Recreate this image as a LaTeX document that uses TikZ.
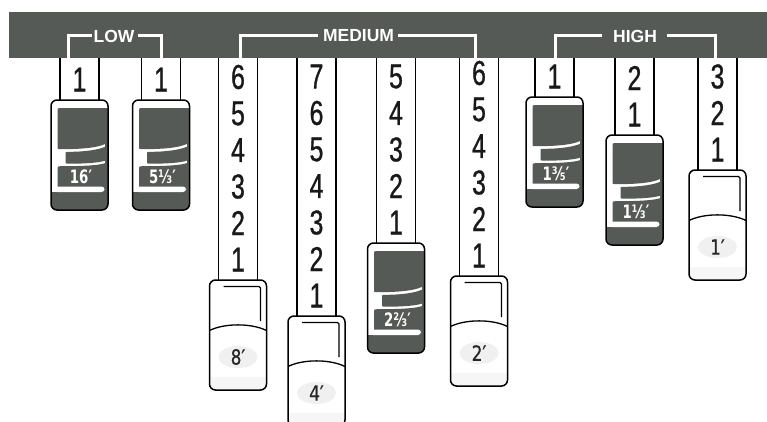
\documentclass[tikz,border=0pt]{standalone}
\usepackage{fontspec}
\setmainfont{Liberation Sans}
\newfontfamily\numfont[FakeStretch=0.72,FakeBold=0.8]{Liberation Sans}
\newfontfamily\labfont[FakeStretch=0.8,FakeBold=0.8]{DejaVu Sans}
\newfontfamily\labboldfont[FakeStretch=0.72]{DejaVu Sans Bold}
\definecolor{panel}{HTML}{565A57}
\tikzset{
  bodyanchor/.style={minimum width=57pt,minimum height=110pt,inner sep=0pt,outer sep=0pt,draw=none},
  digit/.style={font=\numfont\fontsize{34.5}{34.5}\selectfont,inner sep=0pt,text=black!90},
  darklab/.style={font=\labboldfont\fontsize{18.5}{18.5}\selectfont,inner sep=0pt,text=white},
  whitelab/.style={font=\labfont\fontsize{21}{21}\selectfont,inner sep=0pt,text=black!85},
  grouplab/.style={font=\fontsize{17.5}{17.5}\selectfont\bfseries,inner sep=0pt,text=white},
  bracket/.style={draw=white,line width=3pt,line join=miter},
  stripline/.style={draw=black,line width=1.8pt},
  outline/.style={draw=black,line width=1.5pt,rounded corners=6pt},
}
\newcommand\stripfor[1]{%
  \draw[stripline] ([xshift=-19.5pt]#1.north) -- ([xshift=-19.5pt]#1.north |- bar.south);
  \draw[stripline] ([xshift=19.5pt]#1.north) -- ([xshift=19.5pt]#1.north |- bar.south);}
\newcommand\digitsfor[4]{%
  \foreach \k in {1,...,#4}{\node[digit] (#1-d\k) at ({#2},{#3-20.5-(\k-1)*36.5}) {\k};}}
\newcommand\darkbody[4]{%
  \node[bodyanchor] (#1) at ({#2},{#3+55}) {};
  \begin{scope}[shift={(#1.north west)}]
    \fill[white,rounded corners=6pt] (0,0) rectangle (57,110);
    \begin{scope}
      \clip[rounded corners=6pt] (0,0) rectangle (57,110);
      % upper block
      \fill[panel] (6.5,11) .. controls (6.5,8) .. (9.5,8) -- (58,8) -- (58,44)
        -- (54,44) .. controls (48,47) and (35,49.2) .. (10,49.2)
        .. controls (6.5,49.2) .. (6.5,46) -- cycle;
      % right column
      \fill[panel] (54,8) rectangle (58,111);
      % middle tab
      \fill[panel] (58,46.8) -- (54,46.8) .. controls (48,49.6) and (35,51.8) .. (18,51.8)
        .. controls (14.5,51.8) .. (14.5,55) -- (14.5,60.5)
        .. controls (14.5,63.7) .. (18,63.7) .. controls (35,63.7) and (48,62.7) .. (54,60.7)
        -- (58,60.7) -- cycle;
      % lower tab and bottom band
      \fill[panel] (6.5,69.2) .. controls (6.5,66.2) .. (9.5,66.2)
        .. controls (35,66.2) and (48,65.2) .. (54,63.2) -- (58,63.2) -- (58,111)
        -- (-1,111) -- (-1,92) -- (6.5,92) -- cycle;
      \fill[white,rounded corners=3pt] (3,86.5) rectangle (53.5,92);
    \end{scope}
    \node[darklab] (#1-lab) at (30,76.5) {#4};
    \draw[outline] (0,0) rectangle (57,110);
  \end{scope}}
\newcommand\whitebody[4]{%
  \node[bodyanchor] (#1) at ({#2},{#3+55}) {};
  \begin{scope}[shift={(#1.north west)}]
    \fill[white,rounded corners=6pt] (0,0) rectangle (57,110);
    \begin{scope}
      \clip[rounded corners=6pt] (0,0) rectangle (57,110);
      \fill[gray!7] (0,97) rectangle (57,110);
      \draw[line width=1.3pt] (0,50.5) .. controls (15,43) and (42,43) .. (57,50.5);
    \end{scope}
    \draw[line width=1.3pt,rounded corners=1.5pt] (14,6.5) -- (51,6.5) -- (51,41);
    \fill[gray!12] (28.5,77) ellipse [x radius=19.5,y radius=11];
    \node[whitelab] (#1-lab) at (28.5,77) {#4};
    \draw[outline] (0,0) rectangle (57,110);
  \end{scope}}
\begin{document}
\begin{tikzpicture}[x=1pt,y=-1pt]
\useasboundingbox (0,0) rectangle (767,421);
\clip (0,0) rectangle (767,421);
\fill[white] (0,0) rectangle (767,421);
% bar
\node[fill=panel,minimum width=760pt,minimum height=46pt,inner sep=0pt,outer sep=0pt,anchor=north west] (bar) at (9,12) {};
% group labels and brackets
\node[grouplab] (lowlab) at (114,36) {LOW};
\node[grouplab] (medlab) at (358.5,36) {MEDIUM};
\node[grouplab] (highlab) at (635,36) {HIGH};
\draw[bracket] (92,35.5) -| (68,58);
\draw[bracket] (137.5,35.5) -| (161,58);
\draw[bracket] (318,35.5) -| (240,58);
\draw[bracket] (398,35.5) -| (475.5,58);
\draw[bracket] (602,35.5) -| (555,58);
\draw[bracket] (667,35.5) -| (715,58);
% tabs
\darkbody{t16}{79.5}{100}{16′}
\darkbody{t513}{161}{100}{5⅓′}
\whitebody{t8}{238}{280}{8′}
\whitebody{t4}{316.5}{316}{4′}
\darkbody{t223}{396}{243}{2⅔′}
\whitebody{t2}{479}{276}{2′}
\darkbody{t135}{554.5}{97}{1⅗′}
\darkbody{t113}{634.5}{135}{1⅓′}
\whitebody{t1}{717.5}{170}{1′}
% strips
\stripfor{t16}\stripfor{t513}\stripfor{t8}\stripfor{t4}\stripfor{t223}
\stripfor{t2}\stripfor{t135}\stripfor{t113}\stripfor{t1}
% digits
\digitsfor{t16}{79.5}{100}{1}
\digitsfor{t513}{161}{100}{1}
\digitsfor{t8}{238}{280}{6}
\digitsfor{t4}{316.5}{316}{7}
\digitsfor{t223}{396}{243}{5}
\digitsfor{t2}{479}{276}{6}
\digitsfor{t135}{554.5}{97}{1}
\digitsfor{t113}{634.5}{135}{2}
\digitsfor{t1}{717.5}{170}{3}
\end{tikzpicture}
\end{document}
